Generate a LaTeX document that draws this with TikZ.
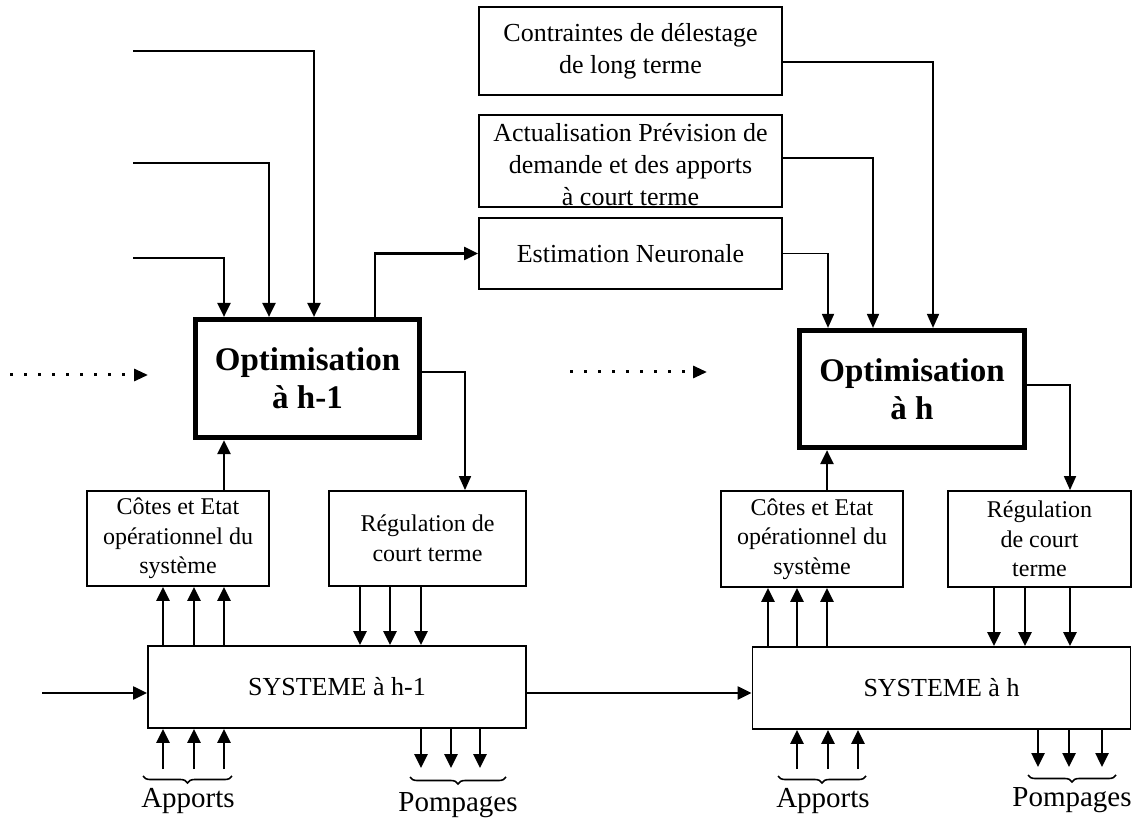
\documentclass[tikz,border=0pt]{standalone}
\usepackage{fontspec}
\setmainfont{Liberation Serif}
\usetikzlibrary{arrows.meta,decorations.pathreplacing,calc}
\begin{document}
\begin{tikzpicture}[x=0.5pt,y=-0.5pt,
  box/.style={draw,line width=0.9pt,inner sep=0pt,align=center},
  topbox/.style={box,minimum width=151.5pt,font=\fontsize{13}{16}\selectfont},
  smallbox/.style={box,font=\fontsize{12}{14.75}\selectfont},
  sysbox/.style={box,minimum height=41pt,font=\fontsize{13}{16}\selectfont},
  optbox/.style={draw,line width=2.6pt,inner sep=0pt,align=center,font=\fontsize{16.5}{19}\selectfont\bfseries},
  arr/.style={line width=1.3pt,-{Triangle[length=7pt,width=6.5pt]}},
  midarr/.style={line width=1.1pt,-{Triangle[length=7pt,width=6.5pt]}},
  thinarr/.style={line width=0.85pt,-{Triangle[length=7pt,width=6pt]}},
  dotarr/.style={line width=1.5pt,dash pattern=on 1.6pt off 5.4pt,-{Triangle[length=7pt,width=6pt]}},
  brace/.style={decorate,decoration={brace,mirror,amplitude=3.5pt},line width=0.8pt},
  lbl/.style={font=\fontsize{14.5}{16}\selectfont,inner sep=0pt}
]
\useasboundingbox (0,0) rectangle (1133,822);

% ---- top boxes
\node[topbox,minimum height=44pt] (contr) at (630.5,51) {Contraintes de délestage\\de long terme};
\node[box,minimum width=151.5pt,minimum height=46pt] (act) at (630.5,161) {};
\node[font=\fontsize{13}{16}\selectfont,align=center,inner sep=0pt] (actT) at (630.5,165) {Actualisation Prévision de\\demande et des apports\\à court terme};
\node[topbox,minimum height=35.5pt] (est) at (630.5,253.5) {Estimation Neuronale};

% ---- optimisation boxes
\node[optbox,minimum width=112pt,minimum height=59pt] (opt1) at (307.5,378.5) {Optimisation\\à h-1};
\node[optbox,minimum width=112.5pt,minimum height=58.5pt] (opt2) at (912,389) {Optimisation\\à h};

% ---- middle boxes
\node[smallbox,minimum width=91pt,minimum height=47.5pt] (cot1) at (178,538.5) {Côtes et Etat\\opérationnel du\\système};
\node[smallbox,minimum width=98.5pt,minimum height=47.5pt] (reg1) at (427.5,538.5) {Régulation de\\court terme};
\node[smallbox,minimum width=91pt,minimum height=48pt] (cot2) at (812,539) {Côtes et Etat\\opérationnel du\\système};
\node[smallbox,minimum width=91.5pt,minimum height=48pt] (reg2) at (1039.5,539) {Régulation\\de court\\terme};

% ---- system boxes
\node[sysbox,minimum width=189pt] (sys1) at (337,687) {SYSTEME à h-1};
\node[sysbox,minimum width=189pt] (sys2) at (941.5,688) {SYSTEME à h};

% ---- left inputs to opt1
\coordinate (in1) at (133,51);
\coordinate (in2) at (133,163);
\coordinate (in3) at (133,258);
\coordinate (k1) at (314,0);
\coordinate (k2) at (269,0);
\coordinate (k3) at (224,0);
\draw[midarr] (in1) -| (k1 |- opt1.north);
\draw[midarr] (in2) -| (k2 |- opt1.north);
\draw[midarr] (in3) -| (k3 |- opt1.north);

% ---- opt1 -> estimation
\coordinate (o1) at (375,0);
\draw[midarr] (o1 |- opt1.north) |- (est.west);

% ---- top boxes -> opt2
\coordinate (c1) at (933,62);
\coordinate (c2) at (873,158);
\coordinate (c3) at (828,0);
\draw[thinarr] (contr.east |- c1) -| (c1 |- opt2.north);
\draw[thinarr] (act.east |- c2) -| (c2 |- opt2.north);
\draw[thinarr] (est.east) -| (c3 |- opt2.north);

% ---- dotted arrows
\coordinate (d1a) at (10,375);
\coordinate (d1b) at (148,375);
\coordinate (d2a) at (570,372);
\coordinate (d2b) at (707,372);
\draw[dotarr] (d1a) -- (d1b);
\draw[dotarr] (d2a) -- (d2b);

% ---- opt -> regulation
\coordinate (r1) at (465,372);
\coordinate (r2) at (1070,385);
\draw[thinarr] (opt1.east |- r1) -| (r1 |- reg1.north);
\draw[thinarr] (opt2.east |- r2) -| (r2 |- reg2.north);

% ---- cotes -> opt
\coordinate (u1) at (224,0);
\coordinate (u2) at (827,0);
\draw[arr] (u1 |- cot1.north) -- (u1 |- opt1.south);
\draw[arr] (u2 |- cot2.north) -- (u2 |- opt2.south);

% ---- system -> cotes, regulation -> system
\foreach \x in {163,194,224}{\coordinate (t) at (\x,0); \draw[arr] (t |- sys1.north) -- (t |- cot1.south);}
\foreach \x in {768,797,827}{\coordinate (t) at (\x,0); \draw[arr] (t |- sys2.north) -- (t |- cot2.south);}
\foreach \x in {360,390,421}{\coordinate (t) at (\x,0); \draw[arr] (t |- reg1.south) -- (t |- sys1.north);}
\foreach \x in {994,1025,1070}{\coordinate (t) at (\x,0); \draw[arr] (t |- reg2.south) -- (t |- sys2.north);}

% ---- apports & pompages
\foreach \x in {163,194,224}{\coordinate (t) at (\x,769); \draw[arr] (t) -- (t |- sys1.south);}
\foreach \x in {797,828,858}{\coordinate (t) at (\x,769); \draw[arr] (t) -- (t |- sys2.south);}
\foreach \x in {421,451,480}{\coordinate (t) at (\x,768); \draw[arr] (t |- sys1.south) -- (t);}
\foreach \x in {1038,1069,1102}{\coordinate (t) at (\x,767); \draw[arr] (t |- sys2.south) -- (t);}

% ---- system chain
\coordinate (ins) at (42,693);
\draw[midarr] (ins) -- (ins -| sys1.west);
\draw[midarr] (sys1.east |- ins) -- (sys2.west |- ins);

% ---- braces and labels
\coordinate (ba1) at (143,776); \coordinate (ba2) at (232,776);
\coordinate (bp1) at (410,777); \coordinate (bp2) at (506,777);
\coordinate (bA1) at (778,776); \coordinate (bA2) at (866,776);
\coordinate (bP1) at (1028,775); \coordinate (bP2) at (1116,775);
\draw[brace] (ba1) -- (ba2);
\draw[brace] (bp1) -- (bp2);
\draw[brace] (bA1) -- (bA2);
\draw[brace] (bP1) -- (bP2);
\node[lbl] (ap1) at (188,801) {Apports};
\node[lbl] (po1) at (458,805) {Pompages};
\node[lbl] (ap2) at (823,801) {Apports};
\node[lbl] (po2) at (1072,800) {Pompages};
\end{tikzpicture}
\end{document}
